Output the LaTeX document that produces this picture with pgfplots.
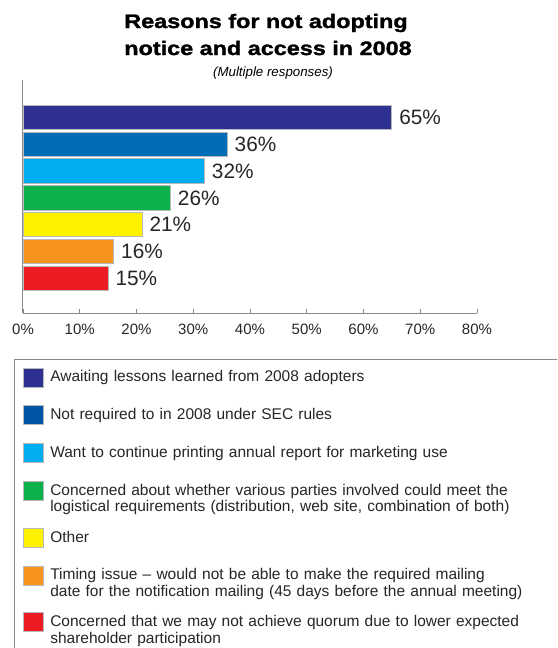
\documentclass[border=0pt]{standalone}
\usepackage{pgfplots}
\pgfplotsset{compat=1.18}
\usepackage{fontspec}
\setmainfont{Liberation Sans}
\newfontfamily\titlefont{Liberation Sans}[FakeStretch=1.2, FakeBold=1.5]
\definecolor{cA}{HTML}{2E3192}
\definecolor{cB}{HTML}{006DB6}
\definecolor{cC}{HTML}{00AEEF}
\definecolor{cD}{HTML}{0DB14B}
\definecolor{cE}{HTML}{FFF200}
\definecolor{cF}{HTML}{F7941D}
\definecolor{cG}{HTML}{ED1C24}
\definecolor{lB}{HTML}{0054A6}
\definecolor{axgray}{HTML}{8A8A8A}
\begin{document}
\begin{tikzpicture}
\useasboundingbox (0pt,0pt) rectangle (557pt,-648pt);
\clip (0pt,0pt) rectangle (557pt,-648pt);
\node[font=\titlefont\fontsize{19.5}{22}\selectfont\bfseries, anchor=base] at (266pt,-28pt) {Reasons for not adopting};
\node[font=\titlefont\fontsize{19.5}{22}\selectfont\bfseries, anchor=base] at (268pt,-55pt) {notice and access in 2008};
\node[font=\fontsize{13.3}{15}\selectfont\itshape, anchor=base] at (273pt,-76pt) {(Multiple responses)};
\begin{axis}[
  scale only axis,
  width=454pt, height=233pt,
  at={(23pt,-313pt)}, anchor=south west,
  xbar,
  xmin=0, xmax=80, ymin=-0.3, ymax=8.4,
  axis lines*=left,
  axis line style={axgray, line width=1pt},
  xtick={0,10,...,80},
  xticklabels={0\%,10\%,20\%,30\%,40\%,50\%,60\%,70\%,80\%},
  tick align=inside,
  major tick length=4pt,
  every tick/.style={axgray, line width=0.8pt},
  ytick=\empty,
  xticklabel style={font=\fontsize{15}{17}\selectfont, text=black!85, yshift=-7pt},
  /pgf/number format/assume math mode=true,
  point meta=x,
  nodes near coords={\pgfmathprintnumber{\pgfplotspointmeta}\%},
  nodes near coords style={font=\fontsize{20.8}{23}\selectfont, text=black!85, anchor=west, inner sep=7pt},
  legend style={at={(rel axis cs:-0.0198,-0.1974)}, anchor=north west,
    draw=axgray, line width=1pt, inner xsep=8pt, inner ysep=8pt,
    row sep=18pt, column sep=7pt,
    nodes={text width=520pt, align=left, font=\fontsize{15.5}{16.5}\selectfont, text=black!85, inner sep=0pt, anchor=base west}},
  legend image code/.code={\fill[#1] (0pt,-5pt) rectangle (20pt,14pt);},
  legend cell align=left,
  twoline/.style={legend image code/.code={\fill[##1] (0pt,-5pt) rectangle (20pt,14pt); \path (0pt,-14pt);}},
]
\addplot[bar shift=0pt, bar width=24.5pt, fill=cA, draw=gray!55, line width=0.8pt, legend image post style={fill=cA, draw=none}] coordinates {(65,7)};
\addplot[bar shift=0pt, bar width=24.5pt, fill=cB, draw=gray!55, line width=0.8pt, legend image post style={fill=lB, draw=none}] coordinates {(36,6)};
\addplot[bar shift=0pt, bar width=24.5pt, fill=cC, draw=gray!55, line width=0.8pt, legend image post style={fill=cC, draw=none}] coordinates {(32,5)};
\addplot[twoline, bar shift=0pt, bar width=24.5pt, fill=cD, draw=gray!55, line width=0.8pt, legend image post style={fill=cD, draw=none}] coordinates {(26,4)};
\addplot[bar shift=0pt, bar width=24.5pt, fill=cE, draw=gray!55, line width=0.8pt, legend image post style={fill=cE, draw=none}] coordinates {(21,3)};
\addplot[twoline, bar shift=0pt, bar width=24.5pt, fill=cF, draw=gray!55, line width=0.8pt, legend image post style={fill=cF, draw=none}] coordinates {(16,2)};
\addplot[twoline, bar shift=0pt, bar width=24.5pt, fill=cG, draw=gray!55, line width=0.8pt, legend image post style={fill=cG, draw=none}] coordinates {(15,1)};
\legend{Awaiting lessons learned from 2008 adopters,
Not required to in 2008 under SEC rules,
Want to continue printing annual report for marketing use,
{Concerned about whether various parties involved could meet the\\logistical requirements (distribution, web site, combination of both)},
Other,
{Timing issue -- would not be able to make the required mailing\\date for the notification mailing (45 days before the annual meeting)},
{Concerned that we may not achieve quorum due to lower expected\\shareholder participation}}
\end{axis}
\end{tikzpicture}
\end{document}
